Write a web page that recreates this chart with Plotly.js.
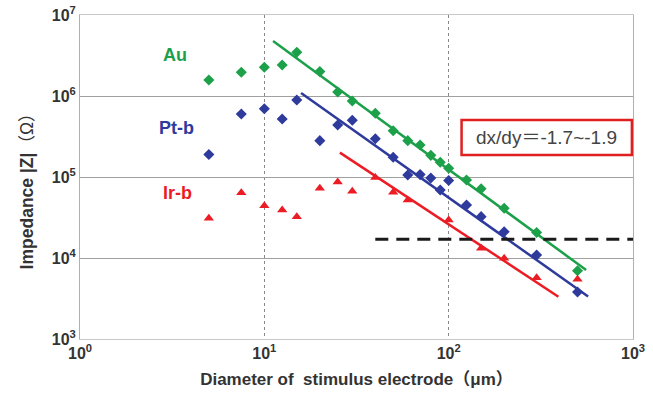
<!DOCTYPE html>
<html>
<head>
<meta charset="utf-8">
<script src="https://cdn.plot.ly/plotly-3.0.1.min.js"></script>
<style>html,body{margin:0;padding:0;background:#fff;}#chart{width:653px;height:396px;}</style>
</head>
<body>
<div id="chart"></div>
<script>
// Diameters (µm)
const diameters = [5, 7.5, 10, 12.5, 15, 20, 25, 30, 40, 50, 60, 70, 80, 90, 100, 125, 150, 200, 300, 500];
const auZ = [1.58e6, 1.96e6, 2.26e6, 2.41e6, 3.47e6, 2.0e6, 1.12e6, 8.67e5, 6.11e5, 3.73e5, 2.81e5, 2.48e5, 1.85e5, 1.52e5, 1.28e5, 9.18e4, 7.15e4, 4.11e4, 2.07e4, 6.97e3];
const ptZ = [1.9e5, 6.0e5, 6.97e5, 5.2e5, 8.93e5, 2.81e5, 4.38e5, 5.01e5, 2.96e5, 1.75e5, 1.06e5, 1.07e5, 9.72e4, 6.92e4, 9.06e4, 4.51e4, 3.24e4, 2.11e4, 1.09e4, 3.8e3];
const irDiameters = [5, 7.5, 10, 12.5, 15, 20, 25, 30, 40, 50, 60, 100, 150, 200, 300, 500];
const irZ = [3.09e4, 6.4e4, 4.43e4, 3.92e4, 3.24e4, 7.24e4, 8.67e4, 6.68e4, 9.86e4, 6.49e4, 5.2e4, 2.94e4, 1.32e4, 9.9e3, 5.7e3, 5.46e3];

// Fitted lines (endpoints)
const auFitX = [11.15, 556.7];
const auFitY = [4.77e6, 7.11e3];
const ptFitX = [15.82, 570.7];
const ptFitY = [1.09e6, 3.35e3];
const irFitX = [25.7, 393.8];
const irFitY = [2.0e5, 3.33e3];

// Threshold (dashed)
const threshX = [40, 1000];
const threshY = [1.7e4, 1.7e4];

// Tick labels
const xTickVals = [1, 10, 100, 1000];
const xTickText = ["10<sup>0</sup>", "10<sup>1</sup>", "10<sup>2</sup>", "10<sup>3</sup>"];
const yTickVals = [1e3, 1e4, 1e5, 1e6, 1e7];
const yTickText = ["10<sup>3</sup>", "10<sup>4</sup>", "10<sup>5</sup>", "10<sup>6</sup>", "10<sup>7</sup>"];

const seriesLabels = ["Au", "Pt-b", "Ir-b"];
const slopeText = "dx/dy＝-1.7~-1.9";
const xTitle = "Diameter of  stimulus electrode（μm）";
const yTitle = "<b>Impedance |Z|</b>（Ω）";

const GREEN = "#1ca04a", BLUE = "#2e3a9c", RED = "#ec1c24";
const FONT = "Liberation Sans, Arial, Noto Sans CJK SC, sans-serif";

const traces = [
  {x: auFitX, y: auFitY, mode: "lines", line: {color: GREEN, width: 2.5}, hoverinfo: "skip"},
  {x: ptFitX, y: ptFitY, mode: "lines", line: {color: BLUE, width: 2.5}, hoverinfo: "skip"},
  {x: irFitX, y: irFitY, mode: "lines", line: {color: RED, width: 2.5}, hoverinfo: "skip"},
  {x: threshX, y: threshY, mode: "lines", line: {color: "#1a1a1a", width: 3, dash: "13px,8px"}, hoverinfo: "skip"},
  {x: diameters, y: auZ, mode: "markers", name: seriesLabels[0], marker: {symbol: "diamond", size: 8.5, color: GREEN}},
  {x: diameters, y: ptZ, mode: "markers", name: seriesLabels[1], marker: {symbol: "diamond", size: 8.5, color: BLUE}},
  {x: irDiameters, y: irZ, mode: "markers", name: seriesLabels[2], marker: {symbol: "triangle-up", size: 9, color: RED}}
];

const layout = {
  width: 653, height: 396,
  margin: {l: 80, r: 20, t: 15, b: 57},
  paper_bgcolor: "#fff", plot_bgcolor: "#fff",
  showlegend: false,
  font: {family: FONT, color: "#333"},
  xaxis: {
    type: "log", range: [0, 3], tickvals: xTickVals, ticktext: xTickText,
    showgrid: true, gridcolor: "#888", griddash: "dot", gridwidth: 1,
    showline: true, mirror: true, linecolor: "#c8c8c8", linewidth: 1,
    zeroline: false, ticks: "",
    tickfont: {family: FONT, size: 16, color: "#333", weight: "bold"},
    title: {text: xTitle, font: {family: FONT, size: 17, color: "#333", weight: "bold"}, standoff: 11}
  },
  yaxis: {
    type: "log", range: [3, 7], tickvals: yTickVals, ticktext: yTickText,
    showgrid: true, gridcolor: "#a0a0a0", gridwidth: 1,
    showline: true, mirror: true, linecolor: "#b0b0b0", linewidth: 1,
    zeroline: false, ticks: "",
    tickfont: {family: FONT, size: 16, color: "#333", weight: "bold"}
  },
  shapes: [
    {type: "rect", xref: "paper", yref: "paper", x0: 0.690, x1: 0.998, y0: 0.568, y1: 0.676,
     line: {color: "#e02020", width: 2.5}, fillcolor: "rgba(0,0,0,0)"}
  ],
  annotations: [
    {xref: "paper", yref: "paper", x: 0.172, y: 0.877, xanchor: "center", yanchor: "middle",
     text: seriesLabels[0], showarrow: false, font: {family: FONT, size: 18, color: GREEN, weight: "bold"}},
    {xref: "paper", yref: "paper", x: 0.174, y: 0.651, xanchor: "center", yanchor: "middle",
     text: seriesLabels[1], showarrow: false, font: {family: FONT, size: 18, color: BLUE, weight: "bold"}},
    {xref: "paper", yref: "paper", x: 0.177, y: 0.451, xanchor: "center", yanchor: "middle",
     text: seriesLabels[2], showarrow: false, font: {family: FONT, size: 18, color: RED, weight: "bold"}},
    {xref: "paper", yref: "paper", x: 0.844, y: 0.622, xanchor: "center", yanchor: "middle",
     text: slopeText, showarrow: false, font: {family: FONT, size: 19, color: "#444"}},
    {xref: "paper", yref: "paper", x: -0.0958, y: 0.468, xanchor: "center", yanchor: "middle",
     textangle: -90, text: yTitle, showarrow: false, font: {family: FONT, size: 17.5, color: "#333"}}
  ]
};

Plotly.newPlot("chart", traces, layout, {staticPlot: true, displayModeBar: false});
</script>
</body>
</html>
